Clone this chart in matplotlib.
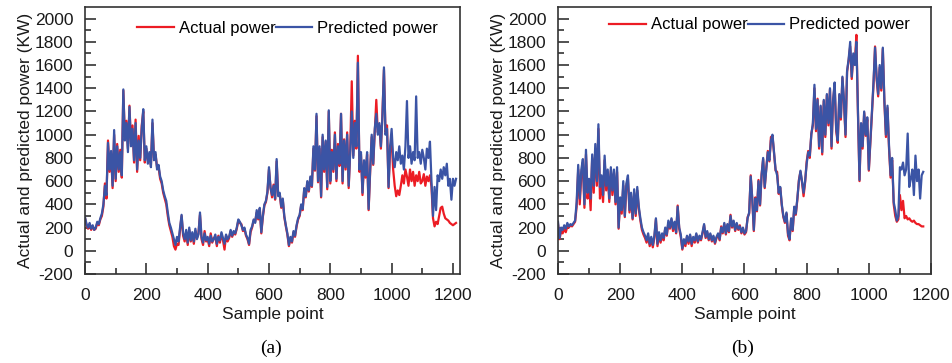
import numpy as np
import matplotlib
matplotlib.use('Agg')
import matplotlib.pyplot as plt

# ==========================
# Data (one value every 5 samples)
# ==========================

step = 5

pred_a = [
    290, 230, 200, 240, 190, 220, 180, 200, 250, 230,
    280, 320, 400, 560, 480, 930, 700, 860, 560, 1040,
    620, 900, 700, 850, 650, 1390, 950, 1100, 850, 1240,
    900, 1050, 780, 1100, 700, 950, 800, 1050, 1220, 780,
    900, 750, 850, 720, 1130, 780, 850, 700, 740, 640,
    600, 520, 470, 430, 330, 240, 200, 150, 100, 50,
    120, 80, 200, 310, 150, 100, 180, 70, 200, 90,
    160, 80, 190, 100, 140, 330, 120, 70, 150, 90,
    120, 60, 130, 80, 100, 140, 60, 120, 90, 160,
    110, 60, 140, 100, 120, 180, 130, 170, 150, 200,
    270, 250, 220, 180, 200, 140, 110, 60, 180, 210,
    270, 240, 350, 280, 370, 160, 300, 400, 430, 510,
    720, 540, 480, 560, 450, 790, 470, 500, 380, 450,
    300, 220, 150, 50, 120, 80, 170, 130, 220, 280,
    310, 400, 360, 540, 470, 600, 520, 640, 560, 900,
    700, 1180, 600, 900, 470, 1000, 700, 950, 550, 1210,
    600, 850, 700, 1000, 620, 900, 750, 1180, 600, 950,
    720, 1000, 560, 850, 1200, 800, 1100, 900, 1620, 700,
    850, 500, 780, 650, 850, 360, 700, 1000, 750, 1050,
    1180, 1000, 1100, 900, 1150, 1580, 1000, 1050, 550, 900,
    1050, 800, 720, 850, 780, 900, 750, 820, 700, 900,
    1290, 800, 900, 750, 850, 780, 1330, 800, 850, 750,
    870, 800, 700, 880, 800, 940, 600, 300, 550, 350,
    650, 600, 700, 620, 720, 650, 750, 560, 620, 440,
    620, 560, 620,
]

actual_a = [
    280, 220, 190, 230, 180, 210, 180, 190, 240, 220,
    270, 300, 380, 580, 450, 950, 680, 840, 540, 1000,
    600, 920, 680, 870, 630, 1380, 980, 1120, 880, 1250,
    920, 1080, 760, 1130, 680, 990, 780, 1080, 1200, 760,
    880, 780, 830, 740, 1100, 800, 830, 720, 720, 620,
    580, 500, 450, 400, 300, 220, 170, 120, 40, 10,
    60, 50, 180, 300, 130, 80, 160, 50, 180, 80,
    140, 60, 170, 110, 150, 310, 100, 50, 170, 80,
    100, 40, 150, 70, 110, 120, 40, 130, 70, 140,
    90, 10, 130, 80, 110, 170, 120, 160, 140, 190,
    260, 240, 230, 170, 190, 130, 100, 50, 160, 200,
    260, 250, 330, 270, 360, 150, 290, 390, 420, 500,
    700, 550, 460, 570, 440, 770, 480, 490, 370, 440,
    290, 210, 140, 40, 110, 70, 160, 120, 210, 270,
    300, 390, 350, 530, 460, 590, 510, 630, 550, 880,
    690, 1160, 590, 880, 460, 980, 680, 940, 530, 1200,
    580, 870, 680, 1020, 600, 920, 730, 1180, 580, 960,
    700, 1020, 540, 870, 1460, 820, 1120, 880, 1680, 680,
    830, 480, 760, 630, 830, 350, 680, 980, 740, 1030,
    1300, 1020, 1080, 880, 1180, 1560, 1020, 1080, 540, 880,
    950, 700, 560, 470, 520, 480, 560, 650, 580, 700,
    640, 560, 700, 600, 680, 560, 650, 600, 680, 580,
    600, 660, 560, 640, 600, 650, 550, 280, 210, 250,
    230, 300, 370, 380, 320, 280, 270, 260, 240, 230,
    220, 230, 240,
]

pred_b = [
    250, 110, 200, 180, 220, 190, 240, 210, 230, 220,
    240, 260, 420, 740, 450, 700, 790, 400, 870, 500,
    620, 450, 830, 560, 920, 600, 1090, 550, 650, 480,
    820, 560, 700, 450, 720, 520, 700, 420, 720, 200,
    460, 350, 600, 300, 580, 650, 350, 500, 280, 530,
    320, 550, 380, 280, 200, 160, 130, 90, 150, 60,
    120, 50, 130, 280, 60, 160, 90, 150, 110, 200,
    140, 260, 200, 280, 190, 250, 160, 380, 200, 140,
    20, 100, 60, 130, 80, 140, 60, 120, 90, 150,
    80, 130, 100, 160, 230, 120, 170, 100, 150, 90,
    130, 70, 120, 150, 100, 200, 160, 240, 150, 230,
    170, 300, 210, 260, 180, 240, 190, 210, 160, 200,
    150, 170, 280, 330, 640, 450, 180, 450, 350, 600,
    400, 650, 800, 550, 700, 850, 780, 950, 1000, 850,
    700, 650, 500, 550, 400, 300, 250, 330, 150, 100,
    280, 180, 380, 320, 450, 600, 690, 600, 500, 600,
    750, 850, 820, 1000, 1100, 1430, 1050, 1300, 900, 1250,
    850, 1300, 1000, 1350, 1100, 1400, 900, 1300, 1450, 1050,
    950, 1350, 1150, 1500, 1300, 1000, 1550, 1650, 1800, 1500,
    1700, 1600, 1800, 1200, 610, 1100, 900, 1200, 1000, 1150,
    700, 950, 1200, 1450, 1750, 1500, 1350, 1600, 1400, 1750,
    1300, 1000, 1250, 900, 650, 800, 420, 350, 260, 300,
    720, 700, 760, 650, 700, 1010, 550, 620, 700, 480,
    820, 600, 700, 450, 650, 680,
]

actual_b = [
    230, 100, 170, 150, 190, 160, 210, 200, 220, 210,
    230, 250, 380, 700, 400, 650, 760, 370, 830, 450,
    580, 350, 800, 500, 880, 560, 1050, 450, 600, 420,
    780, 520, 660, 420, 690, 480, 670, 400, 680, 190,
    440, 320, 560, 290, 560, 620, 330, 470, 270, 500,
    300, 520, 360, 260, 180, 140, 110, 70, 120, 40,
    100, 30, 110, 270, 40, 140, 70, 130, 90, 190,
    130, 240, 190, 270, 170, 240, 150, 390, 190, 120,
    10, 80, 40, 120, 60, 130, 40, 110, 70, 140,
    70, 120, 90, 150, 220, 110, 160, 90, 140, 80,
    120, 60, 110, 140, 90, 210, 150, 230, 140, 220,
    160, 310, 200, 250, 170, 230, 180, 220, 150, 190,
    140, 160, 290, 320, 650, 440, 170, 460, 340, 610,
    390, 660, 790, 540, 710, 860, 770, 980, 990, 840,
    690, 680, 490, 540, 390, 290, 240, 320, 130, 90,
    270, 170, 370, 310, 440, 610, 680, 590, 470, 590,
    770, 860, 800, 1010, 1080, 1400, 1030, 1310, 880, 1240,
    830, 1290, 980, 1340, 1080, 1390, 880, 1290, 1430, 1030,
    930, 1340, 1130, 1490, 1280, 980, 1540, 1640, 1760, 1480,
    1680, 1620, 1860, 1180, 600, 1080, 880, 1190, 990, 1130,
    690, 930, 1180, 1430, 1760, 1480, 1330, 1580, 1380, 1740,
    1280, 980, 1230, 880, 630, 780, 400, 300, 250, 270,
    480, 350, 430, 280, 300, 270, 280, 260, 250, 260,
    240, 230, 230, 220, 210, 210,
]

x_a = np.arange(len(pred_a)) * step
x_b = np.arange(len(pred_b)) * step

# ==========================
# Plot Styling
# ==========================

RED = '#ec1c24'
BLUE = '#3b54a5'
SPINE = '#333333'
TEXT = '#1a1a1a'
FS = 12.5

plt.rcParams['font.family'] = ['Liberation Sans', 'DejaVu Sans']
plt.rcParams['axes.unicode_minus'] = False

fig = plt.figure(figsize=(9.53, 3.63), dpi=100)

W, H = 953, 363
ax_a = fig.add_axes([85 / W, 1 - 274 / H, 375 / W, 267 / H])
ax_b = fig.add_axes([558 / W, 1 - 274 / H, 373 / W, 267 / H])


def style_axes(ax, xmax, legend_x, legend_y):
    ax.set_xlim(0, xmax)
    ax.set_ylim(-200, 2100)
    ax.set_xticks(np.arange(0, 1201, 200))
    ax.set_xticks(np.arange(100, 1201, 200), minor=True)
    ax.set_yticks(np.arange(-200, 2001, 200))
    ax.set_yticks(np.arange(-100, 2001, 200), minor=True)

    ax.tick_params(which='both', direction='in', color=SPINE,
                   labelsize=FS, labelcolor=TEXT, width=1.2)
    ax.tick_params(which='major', length=8)
    ax.tick_params(which='minor', length=4.5)
    ax.tick_params(axis='y', pad=8.5)
    ax.tick_params(axis='x', pad=10)

    for sp in ax.spines.values():
        sp.set_color(SPINE)
        sp.set_linewidth(1.2)

    ax.set_xlabel('Sample point', fontsize=FS, labelpad=3, color=TEXT)
    ax.set_ylabel('Actual and predicted power (KW)', fontsize=FS,
                  labelpad=1, color=TEXT)

    ax.legend(
        loc='center left',
        bbox_to_anchor=(legend_x, legend_y),
        ncol=2,
        frameon=False,
        fontsize=12,
        handlelength=2.2,
        handletextpad=0.3,
        columnspacing=0.0,
        borderpad=0,
        borderaxespad=0,
    )


# Panel (a)
ax_a.plot(x_a, actual_a, color=RED, linewidth=1.6, label='Actual power')
ax_a.plot(x_a, pred_a, color=BLUE, linewidth=1.6, label='Predicted power')
style_axes(ax_a, 1223, 0.139, 0.921)

# Panel (b)
ax_b.plot(x_b, actual_b, color=RED, linewidth=1.6, label='Actual power')
ax_b.plot(x_b, pred_b, color=BLUE, linewidth=1.6, label='Predicted power')
style_axes(ax_b, 1200, 0.137, 0.933)

# Captions
fig.text(271 / W, 1 - 348 / H, '(a)', ha='center', va='center',
         fontsize=14, family=['Liberation Serif', 'DejaVu Serif'])
fig.text(743 / W, 1 - 348 / H, '(b)', ha='center', va='center',
         fontsize=14, family=['Liberation Serif', 'DejaVu Serif'])

fig.savefig('out.png', dpi=100)
